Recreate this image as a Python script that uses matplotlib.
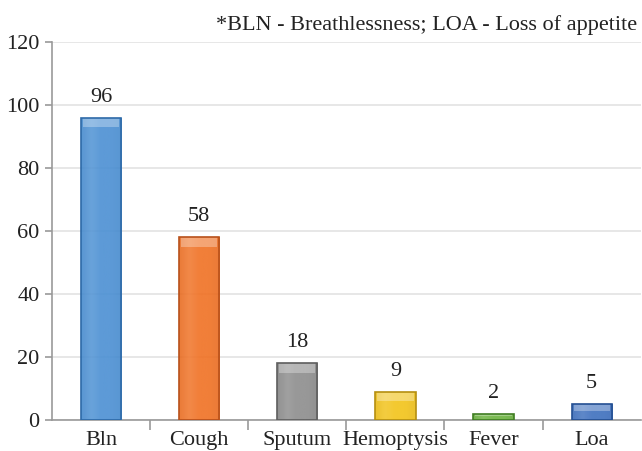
import matplotlib
matplotlib.use("Agg")
import matplotlib.pyplot as plt
from matplotlib.colors import LinearSegmentedColormap, to_rgb
import numpy as np

categories = ["Bln", "Cough", "Sputum", "Hemoptysis", "Fever", "Loa"]
values = [96, 58, 18, 9, 2, 5]
colors = ["#4a8fd3", "#f07022", "#8c8c8c", "#f2c318", "#6cb33f", "#3d6fbe"]
edges = ["#2e6aa8", "#b8501a", "#5e5e5e", "#b58f10", "#3f7d22", "#244f92"]
yticks = [0, 20, 40, 60, 80, 100, 120]
note = "*BLN - Breathlessness; LOA - Loss of appetite"

FAM = "Liberation Serif"
plt.rcParams['font.family'] = FAM

fig = plt.figure(figsize=(6.42, 4.51), dpi=100)
ax = fig.add_axes([0.081, 0.069, 0.917, 0.838])

x = np.arange(len(categories))
bars = ax.bar(x, values, width=0.41, fill=False, linewidth=0, zorder=3)

# subtle horizontal shading to mimic the bevelled look
grad = np.linspace(0, 1, 64).reshape(1, -1)
for b, c, e in zip(bars, colors, edges):
    base = np.array(to_rgb(c))
    dark = tuple(0.85 * base + 0.15 * np.array(to_rgb(e)))
    light = tuple(np.minimum(1, 0.92 * base + 0.08))
    cmap = LinearSegmentedColormap.from_list("g", [dark, light, c, c, dark])
    x0, w = b.get_x(), b.get_width()
    h = b.get_height()
    im = ax.imshow(grad, cmap=cmap, aspect="auto", extent=(x0, x0 + w, 0, h),
                   zorder=3.5, interpolation="bicubic", alpha=0.9)
    im.set_clip_path(b)
    # top bevel highlight
    bh = min(3.0, h * 0.45)
    ax.bar(x0 + w / 2, bh, bottom=h - bh, width=w * 0.9, color="white",
           alpha=0.3, linewidth=0, zorder=4)
    ax.bar(x0 + w / 2, h, width=w, fill=False, edgecolor=e, linewidth=1.2, zorder=5)

for xi, v in zip(x, values):
    ax.text(xi, v + 3.5, str(v), ha="center", va="bottom", fontsize=16, color="#222222", family=FAM)

ax.set_xlim(-0.5, len(categories) - 0.5)
ax.set_ylim(0, 120)
ax.set_yticks(yticks)
ax.set_yticklabels([str(t) for t in yticks], fontsize=16, color="#222222", family=FAM)
ax.set_xticks(x)
ax.set_xticklabels(categories, fontsize=16, color="#222222", family=FAM)
ax.tick_params(axis="x", length=0, pad=8)
ax.set_xticks(np.arange(len(categories) - 1) + 0.5, minor=True)
ax.tick_params(axis="x", which="minor", length=7, color="#999999", width=1.2)
ax.tick_params(axis="y", length=5, color="#999999", width=1.2, pad=4)

ax.grid(axis="y", color="#e3e3e3", linewidth=1.2, zorder=0)
for s in ["top", "right"]:
    ax.spines[s].set_visible(False)
for s in ["left", "bottom"]:
    ax.spines[s].set_color("#999999")
    ax.spines[s].set_linewidth(1.2)

fig.text(0.992, 0.945, note, ha="right", va="center", fontsize=16, color="#222222", family=FAM)

fig.savefig("out.png", dpi=100)
